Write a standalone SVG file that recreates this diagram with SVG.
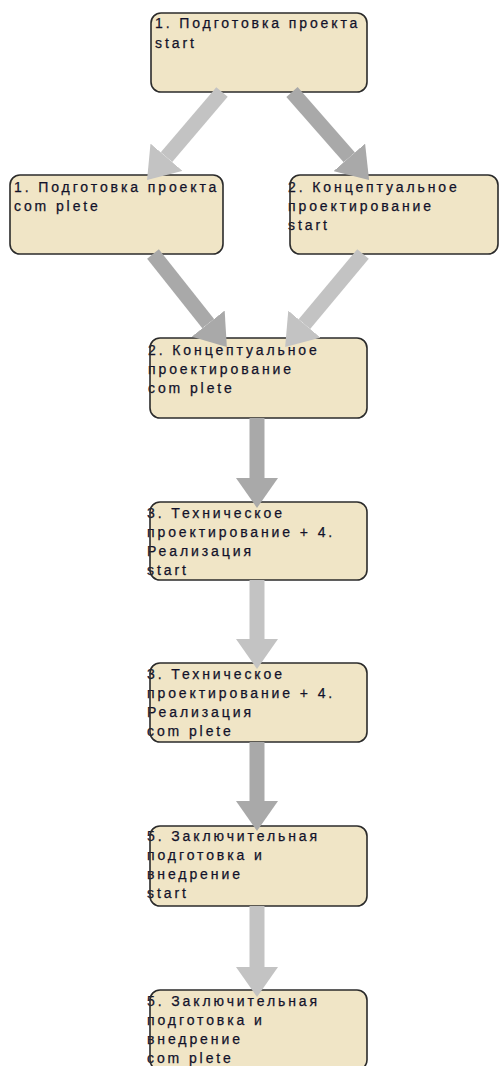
<svg xmlns="http://www.w3.org/2000/svg" width="499" height="1066" viewBox="0 0 499 1066">
<style>
.bf{fill:#f0e5c6}
.bs{fill:none;stroke:#2b2b2b;stroke-width:1.6}
.t{font-family:"Liberation Sans",Arial,sans-serif;font-size:14px;letter-spacing:2.9px;fill:#12122a;stroke:#12122a;stroke-width:0.25}
.cl{stroke:#c3c3c3;stroke-width:15;fill:none}
.cd{stroke:#a9a9a9;stroke-width:15;fill:none}
</style>
<defs>
<marker id="hl" markerUnits="userSpaceOnUse" viewBox="0 -21 30 42" markerWidth="30" markerHeight="42" refX="0" refY="0" orient="auto"><path d="M0,-21 L30,0 L0,21 z" fill="#c3c3c3"/></marker>
<marker id="hd" markerUnits="userSpaceOnUse" viewBox="0 -21 30 42" markerWidth="30" markerHeight="42" refX="0" refY="0" orient="auto"><path d="M0,-21 L30,0 L0,21 z" fill="#a9a9a9"/></marker>
</defs>
<g id="n1">
<rect class="bf" x="151" y="13" width="216" height="79" rx="10"/>
<text class="t" x="155" y="28">1. Подготовка проекта</text>
<text class="t" x="155" y="48">start</text>
<rect class="bs" x="151" y="13" width="216" height="79" rx="10"/>
</g>
<g id="n2">
<rect class="bf" x="10" y="175" width="213" height="79" rx="10"/>
<text class="t" x="14" y="192">1. Подготовка проекта</text>
<text class="t" x="14" y="211">com plete</text>
<rect class="bs" x="10" y="175" width="213" height="79" rx="10"/>
</g>
<g id="n3">
<rect class="bf" x="290" y="175" width="208" height="79" rx="10"/>
<text class="t" x="288" y="192">2. Концептуальное</text>
<text class="t" x="288" y="211">проектирование</text>
<text class="t" x="288" y="230">start</text>
<rect class="bs" x="290" y="175" width="208" height="79" rx="10"/>
</g>
<g id="n4">
<rect class="bf" x="150" y="338" width="217" height="80" rx="10"/>
<text class="t" x="148" y="355">2. Концептуальное</text>
<text class="t" x="148" y="374">проектирование</text>
<text class="t" x="148" y="393">com plete</text>
<rect class="bs" x="150" y="338" width="217" height="80" rx="10"/>
</g>
<g id="n5">
<rect class="bf" x="150" y="502" width="217" height="78" rx="10"/>
<text class="t" x="147" y="518">3. Техническое</text>
<text class="t" x="147" y="537">проектирование + 4.</text>
<text class="t" x="147" y="556">Реализация</text>
<text class="t" x="147" y="575">start</text>
<rect class="bs" x="150" y="502" width="217" height="78" rx="10"/>
</g>
<g id="n6">
<rect class="bf" x="150" y="663" width="217" height="79" rx="10"/>
<text class="t" x="147" y="679">3. Техническое</text>
<text class="t" x="147" y="698">проектирование + 4.</text>
<text class="t" x="147" y="717">Реализация</text>
<text class="t" x="147" y="736">com plete</text>
<rect class="bs" x="150" y="663" width="217" height="79" rx="10"/>
</g>
<g id="n7">
<rect class="bf" x="150" y="826" width="217" height="80" rx="10"/>
<text class="t" x="147" y="841">5. Заключительная</text>
<text class="t" x="147" y="860">подготовка и</text>
<text class="t" x="147" y="879">внедрение</text>
<text class="t" x="147" y="898">start</text>
<rect class="bs" x="150" y="826" width="217" height="80" rx="10"/>
</g>
<g id="n8">
<rect class="bf" x="150" y="990" width="217" height="80" rx="10"/>
<text class="t" x="147" y="1006">5. Заключительная</text>
<text class="t" x="147" y="1025">подготовка и</text>
<text class="t" x="147" y="1044">внедрение</text>
<text class="t" x="147" y="1063">com plete</text>
<rect class="bs" x="150" y="990" width="217" height="80" rx="10"/>
</g>
<g id="connectors">
<line class="cl" x1="222" y1="92" x2="166.5" y2="157.2" marker-end="url(#hl)"/>
<line class="cd" x1="292" y1="92" x2="349.3" y2="157.4" marker-end="url(#hd)"/>
<line class="cd" x1="153" y1="254" x2="208.2" y2="323.6" marker-end="url(#hd)"/>
<line class="cl" x1="363" y1="254" x2="304.4" y2="324.1" marker-end="url(#hl)"/>
<line class="cd" x1="257" y1="418" x2="257" y2="478" marker-end="url(#hd)"/>
<line class="cl" x1="257" y1="580" x2="257" y2="639" marker-end="url(#hl)"/>
<line class="cd" x1="257" y1="742" x2="257" y2="801" marker-end="url(#hd)"/>
<line class="cl" x1="257" y1="906" x2="257" y2="967" marker-end="url(#hl)"/>
</g>
</svg>
